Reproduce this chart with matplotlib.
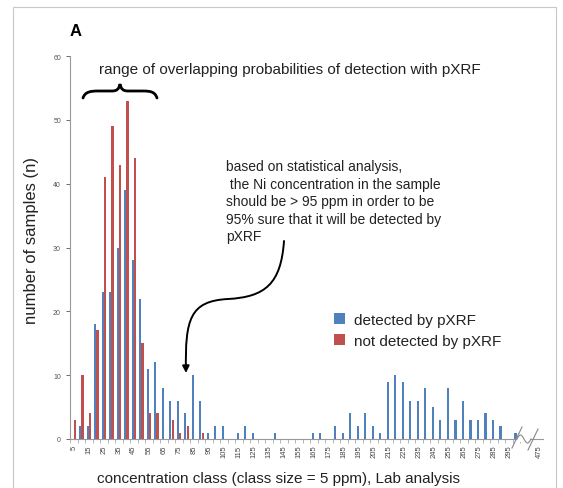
import numpy as np
import matplotlib
matplotlib.use("Agg")
import matplotlib.pyplot as plt
from matplotlib.path import Path
from matplotlib.patches import PathPatch, FancyArrowPatch, Rectangle
from matplotlib.lines import Line2D

plt.rcParams['font.family'] = ['Liberation Sans', 'DejaVu Sans']

# concentration classes (ppm), 5 .. 300, plus the far class after the axis break
classes = list(range(5, 305, 5))
far_class = 475

detected = [0, 2, 2, 18, 23, 23, 30, 39, 28, 22,
            11, 12, 8, 6, 6, 4, 10, 6, 1, 2,
            2, 0, 1, 2, 1, 0, 0, 1, 0, 0,
            0, 0, 1, 1, 0, 2, 1, 4, 2, 4,
            2, 1, 9, 10, 9, 6, 6, 8, 5, 3,
            8, 3, 6, 3, 3, 4, 3, 2, 0, 1]
not_detected = [3, 10, 4, 17, 41, 49, 43, 53, 44, 15,
                4, 4, 0, 3, 1, 2, 0, 1, 0, 0,
                0, 0, 0, 0, 0, 0, 0, 0, 0, 0,
                0, 0, 0, 0, 0, 0, 0, 0, 0, 0,
                0, 0, 0, 0, 0, 0, 0, 0, 0, 0,
                0, 0, 0, 0, 0, 0, 0, 0, 0, 0]

BLUE = '#4F81BD'
RED = '#C0504D'
TXT = '#222222'
W, H = 563, 489


def px(x, y):
    # pixel position (from top-left) -> figure fraction
    return (x / W, 1 - y / H)


fig = plt.figure(figsize=(W / 100, H / 100), dpi=100)
ax = fig.add_axes([70 / W, 1 - 440 / H, 473 / W, 383 / H])

x = np.arange(len(classes))
far_pos = len(classes) + 2
ax.bar(x - 0.16, detected, width=0.28, color=BLUE, label='detected by pXRF')
ax.bar(x + 0.16, not_detected, width=0.28, color=RED, label='not detected by pXRF')

ax.set_xlim(-0.5, far_pos + 0.5)
ax.set_ylim(0, 60)
ax.set_yticks(range(0, 61, 10))
ax.tick_params(axis='y', labelsize=5, colors='#555555', length=3, width=0.6)

ax.set_xticks(list(x[::2]) + [far_pos])
ax.set_xticklabels([str(c) for c in classes[::2]] + [str(far_class)], rotation=90)
ax.set_xticks(np.arange(-0.5, len(classes), 1), minor=True)
ax.tick_params(axis='x', which='major', labelsize=5.5, colors='#444444', length=0, pad=4)
ax.tick_params(axis='x', which='minor', length=3, width=0.5, color='#999999')

for s in ['top', 'right']:
    ax.spines[s].set_visible(False)
for s in ['left', 'bottom']:
    ax.spines[s].set_color('#999999')
    ax.spines[s].set_linewidth(0.8)

ax.set_ylabel('number of samples (n)', fontsize=12, color=TXT)
ax.yaxis.set_label_coords(-31 / 473, 0.522)
ax.set_xlabel('concentration class (class size = 5 ppm), Lab analysis', fontsize=11,
              color=TXT)
ax.xaxis.set_label_coords(0.44, -32 / 383)

leg = ax.legend(loc='upper left', bbox_to_anchor=(0.53, 0.365), frameon=False,
                fontsize=11, handlelength=0.7, handleheight=0.7, handletextpad=0.6,
                labelspacing=0.45)
for t in leg.get_texts():
    t.set_color(TXT)

# outer frame and panel letter
fig.patches.append(Rectangle(px(13, 495), 543 / W, 487 / H, transform=fig.transFigure,
                             fill=False, edgecolor='#c8c8c8', lw=0.8))
fig.text(*px(70, 32), 'A', fontsize=12, fontweight='bold', va='center')

# header text and curly brace
fig.text(*px(290, 70), 'range of overlapping probabilities of detection with pXRF',
         fontsize=11, ha='center', va='center', color=TXT)
brace = [px(83, 99), px(85, 93), px(90, 92), px(98, 92),
         px(112, 92),
         px(117, 92), px(119, 90), px(120, 85),
         px(121, 90), px(123, 92), px(128, 92),
         px(143, 92),
         px(151, 92), px(155, 93), px(157, 99)]
codes = [Path.MOVETO, Path.CURVE4, Path.CURVE4, Path.CURVE4,
         Path.LINETO,
         Path.CURVE4, Path.CURVE4, Path.CURVE4,
         Path.CURVE4, Path.CURVE4, Path.CURVE4,
         Path.LINETO,
         Path.CURVE4, Path.CURVE4, Path.CURVE4]
fig.patches.append(PathPatch(Path(brace, codes), transform=fig.transFigure,
                             fill=False, lw=2, edgecolor='black', capstyle='round'))

# annotation with curved arrow
note = ('based on statistical analysis,\n'
        ' the Ni concentration in the sample\n'
        'should be > 95 ppm in order to be\n'
        '95% sure that it will be detected by\n'
        'pXRF')
fig.text(*px(226, 160), note, fontsize=10, ha='left', va='top', linespacing=1.32,
         color=TXT)

arrow_pts = [px(284, 242), px(281, 285), px(265, 298), px(228, 300),
             px(190, 302), px(185, 320), px(186, 374)]
arrow_codes = [Path.MOVETO] + [Path.CURVE4] * 6
arrow = FancyArrowPatch(path=Path(arrow_pts, arrow_codes), transform=fig.transFigure,
                        arrowstyle='-|>', mutation_scale=10, lw=1.4, color='black')
fig.patches.append(arrow)

# axis break marks
fig.patches.append(Rectangle(px(517, 443), 13 / W, 6 / H, transform=fig.transFigure,
                             facecolor='white', edgecolor='none'))
for x0, y0, x1, y1 in [(512, 449, 522, 428), (528, 451, 538, 430)]:
    fig.lines.append(Line2D([x0 / W, x1 / W], [1 - y0 / H, 1 - y1 / H],
                            transform=fig.transFigure, color='#888888', lw=0.8))
t = np.linspace(0, 1, 30)
fig.lines.append(Line2D((517 + 14 * t) / W, 1 - (440 - 4 * np.sin(2 * np.pi * t)) / H,
                        transform=fig.transFigure, color='#888888', lw=0.8))

fig.savefig('out.png', dpi=100)
